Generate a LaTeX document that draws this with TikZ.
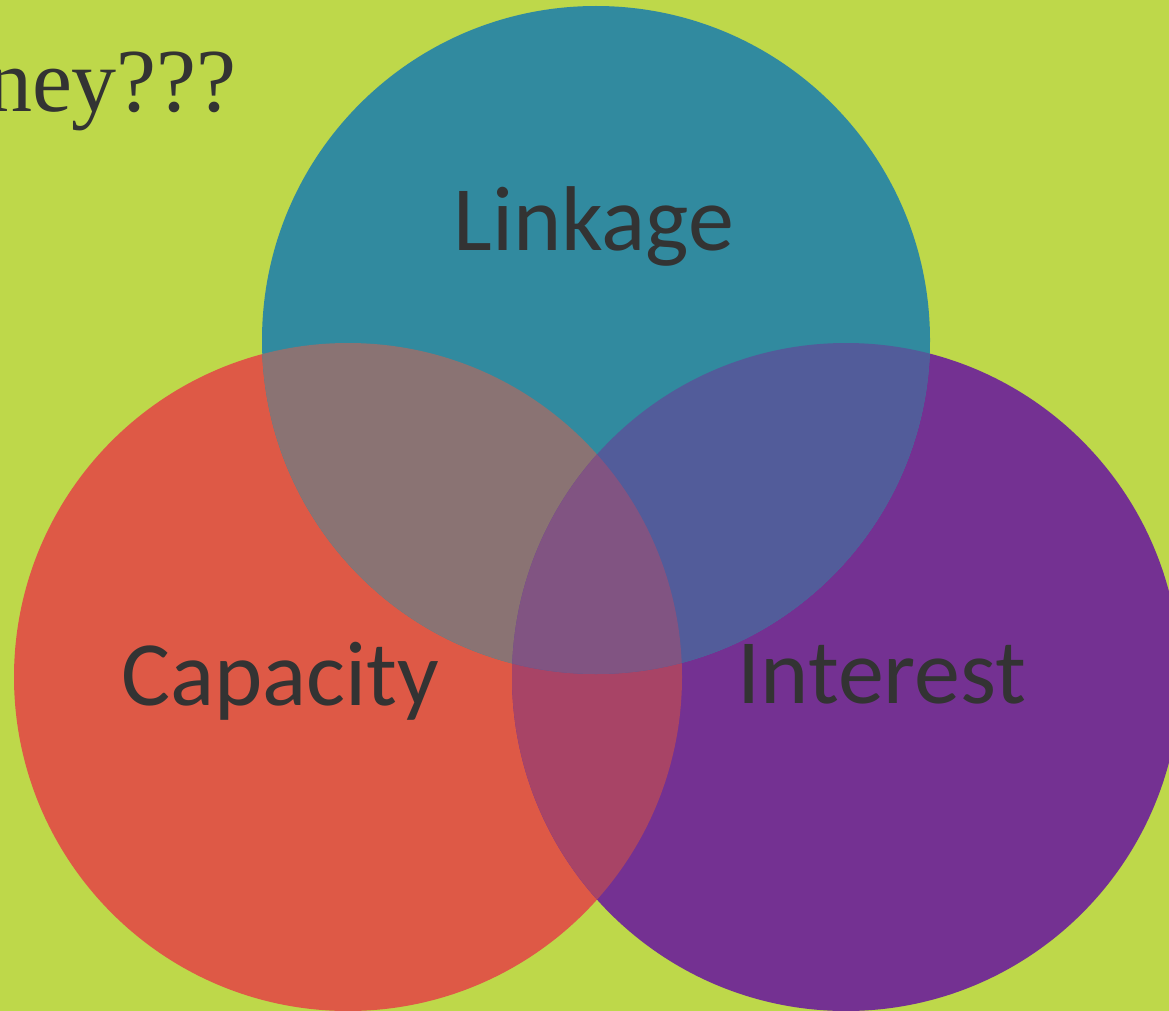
\documentclass[tikz,border=0pt]{standalone}
\usepackage{fontspec}
\setmainfont{Carlito}
\newfontfamily\serifface{Liberation Serif}
\definecolor{bg}{HTML}{BED84A}
\definecolor{cteal}{HTML}{318A9F}
\definecolor{cred}{HTML}{DE5946}
\definecolor{cpurple}{HTML}{743192}
\definecolor{crt}{HTML}{8A7373}
\definecolor{ctp}{HTML}{525C9A}
\definecolor{crp}{HTML}{A84466}
\definecolor{call}{HTML}{815482}
\definecolor{txt}{HTML}{333333}
\begin{document}
\begin{tikzpicture}[x=1pt,y=-1pt,
  lbl/.style={font=\fontsize{92}{94}\selectfont, text=txt, anchor=base, inner sep=0pt}]
\useasboundingbox (0,0) rectangle (1169,1011);
\fill[bg] (0,0) rectangle (1169,1011);
\begin{scope}
\clip (0,0) rectangle (1169,1011);
\fill[cred] (348,677) circle (334);
\fill[cpurple] (846,677) circle (334);
\fill[cteal] (596,340) circle (334);
\begin{scope}
\clip (348,677) circle (334);
\fill[crt] (596,340) circle (334);
\fill[crp] (846,677) circle (334);
\end{scope}
\begin{scope}
\clip (846,677) circle (334);
\fill[ctp] (596,340) circle (334);
\end{scope}
\begin{scope}
\clip (348,677) circle (334);
\clip (846,677) circle (334);
\fill[call] (596,340) circle (334);
\end{scope}
\end{scope}
\node[lbl] (link) at (594,250) {Linkage};
\node[lbl] (cap) at (280,705) {Capacity};
\node[lbl] (int) at (882,703) {Interest};
\node[font=\serifface\fontsize{90}{94}\selectfont, text=txt, anchor=base east, inner sep=0pt] (q) at (237,112) {ney???};
\end{tikzpicture}
\end{document}
